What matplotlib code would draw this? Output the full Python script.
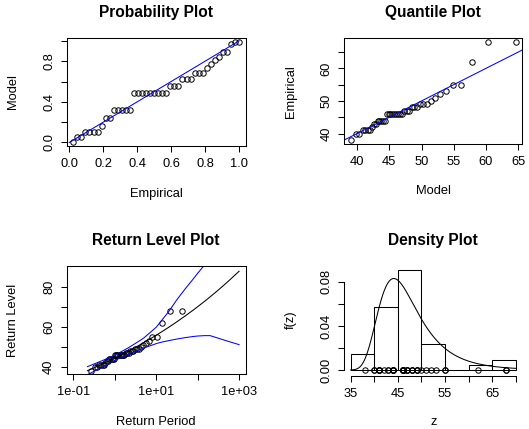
import numpy as np
import matplotlib
matplotlib.use("Agg")
import matplotlib.pyplot as plt

plt.rcParams['font.family'] = ['Liberation Sans', 'DejaVu Sans']

# annual maxima (n = 42)
z_data = [38, 40, 40, 41, 41, 41, 41, 42, 43, 43, 44, 44, 44, 44, 44,
          46, 46, 46, 46, 46, 46, 46, 46, 46, 47, 47, 47, 48, 48, 48,
          49, 49, 49, 50, 51, 52, 53, 55, 55, 62, 68, 68]

# fitted GEV (location, scale, shape)
gev_loc = 44.55
gev_scale = 4.45
gev_shape = 0.095

# return level curve and its confidence band
rl_periods = [0.22, 0.3, 0.5, 0.7, 1, 1.5, 2, 3, 5, 7, 10, 15, 20, 30, 50,
              80, 100, 150, 200, 300, 500, 1000]
ci_periods = [0.22, 0.5, 1, 2, 3.5, 5, 10, 12.6, 20, 31.6, 50, 80, 100, 145,
              200, 500, 1000]
ci_lower = [36.3, 40.0, 43.4, 46.2, 48.3, 49.6, 51.8, 52.4, 53.3, 54.1, 54.8,
            55.4, 55.6, 55.8, 55.8, 53.2, 51.3]
ci_upper = [40.3, 43.3, 46.0, 49.4, 52.5, 54.6, 60.0, 62.6, 67.8, 73.8, 79.2,
            84.4, 87.0, 91.0, 94.5, 104.0, 112.0]

hist_breaks = [35, 40, 45, 50, 55, 60, 65, 70]

FS = 9.3


def gev_cdf(x):
    t = (1 + gev_shape * (np.asarray(x, float) - gev_loc) / gev_scale) ** (-1 / gev_shape)
    return np.exp(-t)


def gev_quant(p):
    y = -np.log(np.asarray(p, float))
    return gev_loc + gev_scale / gev_shape * (y ** (-gev_shape) - 1)


def gev_pdf(x):
    s = 1 + gev_shape * (np.asarray(x, float) - gev_loc) / gev_scale
    t = s ** (-1 / gev_shape)
    return t ** (gev_shape + 1) * np.exp(-t) / gev_scale


def rlim(lo, hi):
    d = (hi - lo) * 0.04
    return lo - d, hi + d


def style(ax, title, xlab, ylab, box=True):
    ax.set_title(title, fontsize=FS * 1.2, fontweight='bold', pad=15)
    ax.tick_params(direction='out', length=4.3, width=0.75, labelsize=FS)
    ax.tick_params(axis='x', pad=4.5)
    ax.tick_params(axis='y', pad=4)
    for lab in ax.get_yticklabels():
        lab.set_rotation(90)
        lab.set_va('center')
    ax.set_xlabel(xlab, fontsize=FS)
    ax.set_ylabel(ylab, fontsize=FS)
    ax.xaxis.set_label_coords(0.5, -0.39)
    ax.xaxis.label.set_va('top')
    ax.yaxis.set_label_coords(-0.298, 0.5)
    ax.yaxis.label.set_va('center')
    for sp in ax.spines.values():
        sp.set_linewidth(0.75)
        sp.set_visible(box)


def labels_every_other(ticks, fmt):
    return [fmt(t) if i % 2 == 0 else '' for i, t in enumerate(ticks)]


z = np.sort(np.array(z_data, float))
n = len(z)
idx = np.arange(1, n + 1)

fig = plt.figure(figsize=(5.29, 4.29), dpi=100)
W, H = 529.0, 429.0


def panel(l, r, t, b):
    return fig.add_axes([l / W, 1 - b / H, (r - l) / W, (b - t) / H])


mk = dict(marker='o', ms=3.9, mfc='none', mec='black', mew=0.7, ls='none')

# Probability plot
ax1 = panel(66.7, 245.7, 38.3, 145.7)
pe = idx / n
pm = gev_cdf(z)
ax1.plot(pe, pm, **mk)
ax1.plot([0, 1], [0, 1], color='blue', lw=0.75)
ax1.set_xlim(rlim(pe.min(), pe.max()))
ax1.set_ylim(rlim(pm.min(), pm.max()))
xt = [0.0, 0.2, 0.4, 0.6, 0.8, 1.0]
ax1.set_xticks(xt)
ax1.set_xticklabels(['%.1f' % v for v in xt])
ax1.set_yticks(xt)
ax1.set_yticklabels(labels_every_other(xt, lambda v: '%.1f' % v))
style(ax1, 'Probability Plot', 'Empirical', 'Model')

# Quantile plot
ax2 = panel(344, 522.3, 38.3, 144)
qm = gev_quant(idx / (n + 1))
ax2.plot(qm, z, **mk)
ax2.set_xlim(rlim(qm.min(), qm.max()))
ax2.set_ylim(rlim(z.min(), z.max()))
lo, hi = ax2.get_xlim()
ax2.plot([lo - 5, hi + 5], [lo - 5, hi + 5], color='blue', lw=0.75)
ax2.set_xlim(rlim(qm.min(), qm.max()))
ax2.set_ylim(rlim(z.min(), z.max()))
xt = [40, 45, 50, 55, 60, 65]
ax2.set_xticks(xt)
ax2.set_xticklabels([str(v) for v in xt])
ax2.set_yticks(xt)
ax2.set_yticklabels(labels_every_other(xt, str))
style(ax2, 'Quantile Plot', 'Model', 'Empirical')

# Return level plot
ax3 = panel(66.7, 245.7, 266.3, 374)
rp = -1 / np.log(idx / (n + 1))
ax3.set_xscale('log')
ax3.plot(rp, z, **mk)
rl_T = np.array(rl_periods)
ax3.plot(rl_T, gev_quant(np.exp(-1 / rl_T)), color='black', lw=0.75)
ax3.plot(ci_periods, ci_lower, color='blue', lw=0.75)
ax3.plot(ci_periods, ci_upper, color='blue', lw=0.75)
lx = rlim(-1, 3)
ax3.set_xlim(10 ** lx[0], 10 ** lx[1])
ax3.set_ylim(rlim(38.6, 88.5))
xt = [0.1, 1, 10, 100, 1000]
ax3.set_xticks(xt)
ax3.set_xticklabels(['1e-01', '', '1e+01', '', '1e+03'])
ax3.xaxis.set_minor_locator(matplotlib.ticker.NullLocator())
yt = [40, 50, 60, 70, 80]
ax3.set_yticks(yt)
ax3.set_yticklabels(labels_every_other(yt, str))
style(ax3, 'Return Level Plot', 'Return Period', 'Return Level')

# Density plot
ax4 = panel(344, 522.5, 266.3, 374)
br = np.array(hist_breaks, float)
bin_i = np.clip(np.searchsorted(br, z, side='left') - 1, 0, len(br) - 2)
counts = np.bincount(bin_i, minlength=len(br) - 1)
dens = counts / (n * np.diff(br))
ax4.bar(br[:-1], dens, width=np.diff(br), align='edge', fill=False,
        edgecolor='black', lw=0.75)
xg = np.linspace(br[0], br[-1], 300)
fx = gev_pdf(xg)
ax4.plot(xg, fx, color='black', lw=0.75)
ax4.plot(z, np.zeros(n), **mk)
ax4.set_xlim(rlim(br[0], br[-1]))
ax4.set_ylim(rlim(0, max(dens.max(), fx.max())))
xt = [35, 40, 45, 50, 55, 60, 65, 70]
ax4.set_xticks(xt)
ax4.set_xticklabels(labels_every_other(xt, str))
yt = [0.0, 0.02, 0.04, 0.06, 0.08]
ax4.set_yticks(yt)
ax4.set_yticklabels(labels_every_other(yt, lambda v: '%.2f' % v))
style(ax4, 'Density Plot', 'z', 'f(z)', box=False)
ax4.spines['left'].set_visible(True)
ax4.spines['bottom'].set_visible(True)
ax4.spines['left'].set_bounds(0, 0.08)
ax4.spines['bottom'].set_bounds(35, 70)
ax4.spines['bottom'].set_position(('outward', 1.5))

fig.savefig('out.png', dpi=100)
